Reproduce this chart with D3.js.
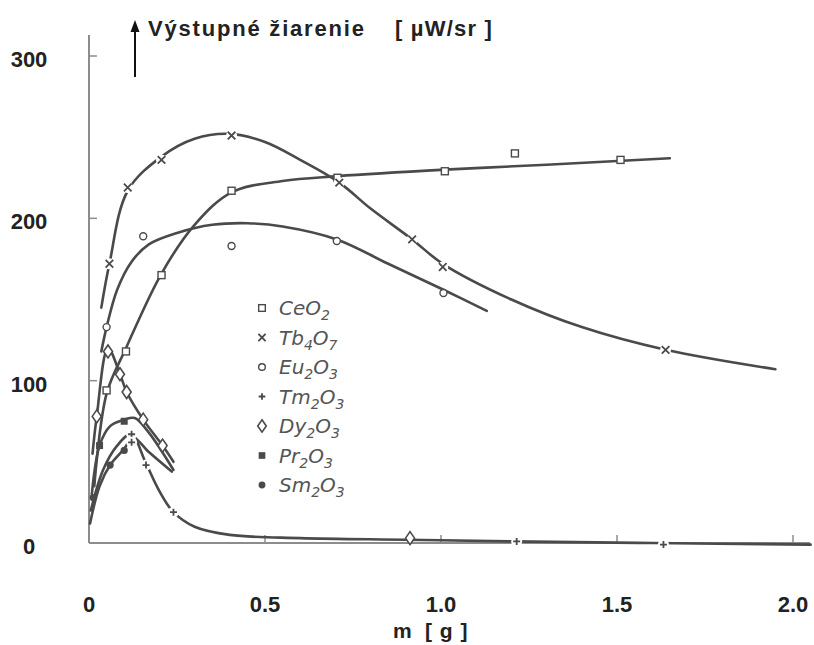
<!DOCTYPE html>
<html>
<head>
<meta charset="utf-8">
<script src="https://cdn.jsdelivr.net/npm/d3@7"></script>
<style>
  html, body { margin: 0; padding: 0; background: #fff; }
  svg { display: block; }
</style>
</head>
<body>
<svg id="chart" width="814" height="645"></svg>
<script>
// ---------- data ----------
const xTicks = [0.5, 1.0, 1.5, 2.0];
const xTickLabels = ["0", "0.5", "1.0", "1.5", "2.0"];
const xLabelValues = [0, 0.5, 1.0, 1.5, 2.0];
const yTicks = [100, 200, 300];
const yTickLabels = ["0", "100", "200", "300"];
const yLabelValues = [0, 100, 200, 300];

const seriesNames = ["CeO2", "Tb4O7", "Eu2O3", "Tm2O3", "Dy2O3", "Pr2O3", "Sm2O3"];
const seriesSymbols = ["square", "cross", "circle", "plus", "diamond", "fsquare", "fcircle"];

// measured points (markers)
const ceo2Pts  = [[0.05,94],[0.105,118],[0.206,165],[0.405,217],[0.706,225],[1.011,229],[1.21,240],[1.51,236]];
const tb4o7Pts = [[0.058,172],[0.11,219],[0.206,236],[0.405,251],[0.711,222],[0.918,187],[1.005,170],[1.638,119]];
const eu2o3Pts = [[0.05,133],[0.154,189],[0.405,183],[0.704,186],[1.007,154]];
const tm2o3Pts = [[0.121,67],[0.121,62],[0.162,48],[0.24,19],[1.215,1],[1.632,-1]];
const dy2o3Pts = [[0.022,78],[0.054,118],[0.088,104],[0.107,93],[0.154,76],[0.209,60],[0.912,3]];
const pr2o3Pts = [[0.03,60],[0.1,75]];
const sm2o3Pts = [[0.012,28],[0.06,48],[0.1,57]];

// fitted curves (knots)
const ceo2Curve  = [[0.015,35],[0.05,92],[0.105,120],[0.206,166],[0.3,196],[0.405,216],[0.55,223],[0.706,226],[1.011,230],[1.3,233],[1.65,237]];
const tb4o7Curve = [[0.035,145],[0.058,172],[0.11,217],[0.206,238],[0.3,249],[0.4,252],[0.5,247],[0.6,236],[0.711,222],[0.8,206],[0.918,187],[1.005,172],[1.2,150],[1.4,133],[1.638,119],[1.95,107]];
const eu2o3Curve = [[0.035,118],[0.05,133],[0.08,156],[0.12,173],[0.17,184],[0.25,191],[0.35,196],[0.45,197],[0.55,195],[0.704,187],[0.85,172],[1.007,156],[1.13,143]];
const tm2o3Curve = [[0.005,20],[0.04,45],[0.08,60],[0.12,67],[0.16,50],[0.2,32],[0.24,19],[0.3,10],[0.4,5],[0.6,3],[0.9,2],[1.2,1],[1.6,0],[2.05,-1]];
const dy2o3Curve = [[0.01,55],[0.022,78],[0.054,120],[0.088,104],[0.107,93],[0.154,76],[0.209,60],[0.24,50]];
const pr2o3Curve = [[0.008,30],[0.03,60],[0.06,72],[0.1,76],[0.13,77],[0.17,68],[0.24,45]];
const sm2o3Curve = [[0.003,12],[0.03,35],[0.06,48],[0.1,58],[0.125,65],[0.17,56],[0.235,44]];

const allPts = [ceo2Pts, tb4o7Pts, eu2o3Pts, tm2o3Pts, dy2o3Pts, pr2o3Pts, sm2o3Pts];
const allCurves = [ceo2Curve, tb4o7Curve, eu2o3Curve, tm2o3Curve, dy2o3Curve, pr2o3Curve, sm2o3Curve];

// ---------- drawing ----------
const svg = d3.select("#chart");
const ink = "#4a4a4a";
const axisInk = "#8c8c8c";
const boldFont = "Liberation Sans, Arial, sans-serif";

const x = d3.scaleLinear().domain([0, 2]).range([89, 793]);
const y = d3.scaleLinear().domain([0, 300]).range([543, 56]);

// axes lines
svg.append("line").attr("x1", x(0)).attr("x2", x(0)).attr("y1", 35).attr("y2", y(0))
  .attr("stroke", axisInk).attr("stroke-width", 2);
svg.append("line").attr("x1", x(0)).attr("x2", 810).attr("y1", y(0)).attr("y2", y(0))
  .attr("stroke", axisInk).attr("stroke-width", 2);

// ticks (inward)
svg.selectAll(".ytick").data(yTicks).enter().append("line")
  .attr("x1", x(0)).attr("x2", x(0) + 8)
  .attr("y1", d => y(d)).attr("y2", d => y(d))
  .attr("stroke", axisInk).attr("stroke-width", 1.5);
svg.selectAll(".xtick").data(xTicks).enter().append("line")
  .attr("x1", d => x(d)).attr("x2", d => x(d))
  .attr("y1", y(0)).attr("y2", y(0) - 8)
  .attr("stroke", axisInk).attr("stroke-width", 1.5);

// tick labels
svg.selectAll(".ylab").data(yLabelValues).enter().append("text")
  .attr("x", 29).attr("y", d => y(d) + 11)
  .attr("text-anchor", "middle")
  .attr("font-family", boldFont)
  .attr("font-weight", "bold").attr("font-size", 22).attr("fill", "#222")
  .text((d, i) => yTickLabels[i]);
svg.selectAll(".xlab").data(xLabelValues).enter().append("text")
  .attr("x", d => x(d)).attr("y", 612)
  .attr("text-anchor", "middle")
  .attr("font-family", boldFont)
  .attr("font-weight", "bold").attr("font-size", 22).attr("fill", "#222")
  .text((d, i) => xTickLabels[i]);

// axis titles
svg.append("text").attr("x", 393).attr("y", 638)
  .attr("font-family", boldFont)
  .attr("font-weight", "bold").attr("font-size", 21).attr("fill", "#222")
  .text("m");
svg.append("text").attr("x", 425).attr("y", 638)
  .attr("font-family", boldFont).attr("letter-spacing", 1)
  .attr("font-weight", "bold").attr("font-size", 21).attr("fill", "#222")
  .attr("xml:space", "preserve")
  .text("[ g ]");
svg.append("text").attr("x", 148).attr("y", 36)
  .attr("font-family", boldFont).attr("letter-spacing", 1.8)
  .attr("font-weight", "bold").attr("font-size", 22).attr("fill", "#222")
  .text("Výstupné žiarenie");
svg.append("text").attr("x", 395).attr("y", 36)
  .attr("font-family", boldFont).attr("letter-spacing", 1.2)
  .attr("font-weight", "bold").attr("font-size", 22).attr("fill", "#222")
  .attr("xml:space", "preserve")
  .text("[ µW/sr ]");
// arrow
svg.append("line").attr("x1", 135).attr("x2", 135).attr("y1", 77).attr("y2", 30)
  .attr("stroke", "#111").attr("stroke-width", 2);
svg.append("path").attr("d", "M135,20 L130.5,32 L139.5,32 Z").attr("fill", "#111");

// curves
const line = d3.line().x(d => x(d[0])).y(d => y(d[1])).curve(d3.curveCatmullRom.alpha(0.5));
svg.selectAll(".curve").data(allCurves).enter().append("path")
  .attr("d", line)
  .attr("fill", "none").attr("stroke", ink).attr("stroke-width", 2.6)
  .attr("stroke-linecap", "round");

// symbols
function drawSymbol(g, type, cx, cy, s) {
  s = s || 1;
  if (type === "square") {
    g.append("rect").attr("x", cx - 3.5*s).attr("y", cy - 3.5*s).attr("width", 7*s).attr("height", 7*s)
      .attr("fill", "#fff").attr("stroke", ink).attr("stroke-width", 1.4);
  } else if (type === "cross") {
    const r = 3.8*s;
    g.append("path").attr("d", `M${cx-r},${cy-r}L${cx+r},${cy+r}M${cx-r},${cy+r}L${cx+r},${cy-r}`)
      .attr("stroke", ink).attr("stroke-width", 1.8);
  } else if (type === "circle") {
    g.append("circle").attr("cx", cx).attr("cy", cy).attr("r", 3.5*s)
      .attr("fill", "#fff").attr("stroke", ink).attr("stroke-width", 1.4);
  } else if (type === "plus") {
    const r = 3.5*s;
    g.append("path").attr("d", `M${cx-r},${cy}L${cx+r},${cy}M${cx},${cy-r}L${cx},${cy+r}`)
      .attr("stroke", ink).attr("stroke-width", 1.8);
  } else if (type === "diamond") {
    const w = 4.5*s, h = 6.5*s;
    g.append("path").attr("d", `M${cx},${cy-h}L${cx+w},${cy}L${cx},${cy+h}L${cx-w},${cy}Z`)
      .attr("fill", "#fff").attr("stroke", ink).attr("stroke-width", 1.6);
  } else if (type === "fsquare") {
    g.append("rect").attr("x", cx - 3.5*s).attr("y", cy - 3.5*s).attr("width", 7*s).attr("height", 7*s)
      .attr("fill", ink);
  } else if (type === "fcircle") {
    g.append("circle").attr("cx", cx).attr("cy", cy).attr("r", 3.6*s).attr("fill", ink);
  }
}

const markG = svg.append("g");
allPts.forEach((pts, i) => {
  pts.forEach(p => {
    const cx = x(p[0]), cy = y(p[1]);
    if (seriesSymbols[i] === "cross" || seriesSymbols[i] === "plus") {
      markG.append("circle").attr("cx", cx).attr("cy", cy).attr("r", 5.5).attr("fill", "#fff");
    }
    drawSymbol(markG, seriesSymbols[i], cx, cy, 1);
  });
});

// legend
const legendLabels = [
  ["Ce", "", "O", "2"],
  ["Tb", "4", "O", "7"],
  ["Eu", "2", "O", "3"],
  ["Tm", "2", "O", "3"],
  ["Dy", "2", "O", "3"],
  ["Pr", "2", "O", "3"],
  ["Sm", "2", "O", "3"]
];
const legG = svg.append("g");
seriesNames.forEach((name, i) => {
  const ly = 308 + i * 29.5;
  drawSymbol(legG, seriesSymbols[i], 262, ly, 0.95);
  const t = legG.append("text").attr("x", 279).attr("y", ly + 7)
    .attr("font-family", "DejaVu Sans, sans-serif").attr("font-style", "italic")
    .attr("font-size", 20).attr("fill", "#555");
  const parts = legendLabels[i];
  t.append("tspan").text(parts[0]);
  if (parts[1]) t.append("tspan").attr("dy", 5).attr("font-size", 14).text(parts[1]);
  t.append("tspan").attr("dy", parts[1] ? -5 : 0).text(parts[2]);
  t.append("tspan").attr("dy", 5).attr("font-size", 14).text(parts[3]);
});
</script>
</body>
</html>
